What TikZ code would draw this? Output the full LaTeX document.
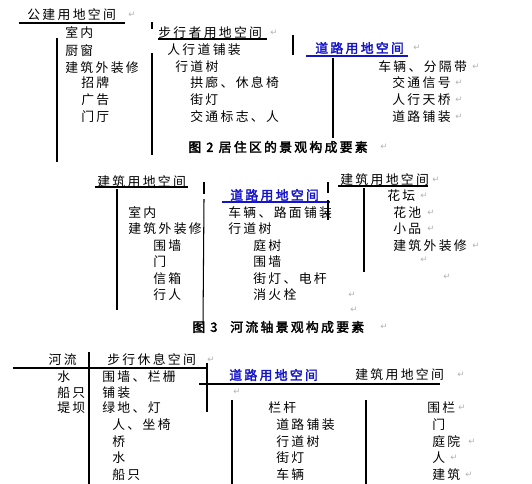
\documentclass[tikz,border=0pt]{standalone}
\usepackage{fontspec}
\setmainfont{Noto Sans CJK SC}[AutoFakeBold=2.5, LetterSpace=18]
\newfontfamily\markfont{DejaVu Sans}
\usetikzlibrary{positioning}
\definecolor{roadblue}{RGB}{20,20,200}

\begin{document}
\begin{tikzpicture}[x=0.02cm, y=-0.02cm,
    txt/.style={anchor=west, inner sep=0pt, font=\fontsize{7.3}{8}\selectfont},
    road/.style={txt, text=roadblue, font=\fontsize{7.3}{8}\selectfont\bfseries},
    figcap/.style={txt, font=\fontsize{7.3}{8}\selectfont\bfseries},
    pmark/.style={anchor=west, inner sep=0pt, text=black!30, font=\markfont\fontsize{5}{6}\selectfont},
    rule/.style={line width=0.6pt}]
    \useasboundingbox (0,0) rectangle (532,484);
    % figure 2
    \node[txt] (pub) at (27,15) {公建用地空间};
    \draw[rule] (19,23) -- (125,23);
    \foreach \n/\x/\y/\t in {
        pa/65/33/室内, pb/65/51/厨窗, pc/65/68/建筑外装修,
        pd/81/83/招牌, pe/81/100/广告, pf/81/117/门厅}
        \node[txt] (\n) at (\x,\y) {\t};
    \draw[rule] (57,38) -- (57,162);
    \node[txt] (walk) at (158,33) {步行者用地空间};
    \draw[rule] (158,39) -- (267,39);
    \foreach \n/\x/\y/\t in {
        wa/167/50/人行道铺装, wb/175/67/行道树,
        wc/190/83/拱廊、休息椅, wd/190/100/街灯, we/190/117/交通标志、人}
        \node[txt] (\n) at (\x,\y) {\t};
    \draw[rule] (152,22) -- (152,29);
    \draw[rule] (152,53) -- (152,155);
    \draw[rule] (293,35) -- (293,55);
    \node[road] (roadA) at (315,48) {道路用地空间};
    \draw[rule, roadblue] (306,56) -- (408,56);
    \draw[rule] (333,58) -- (333,138);
    \foreach \n/\x/\y/\t in {
        ra/378/67/车辆、分隔带, rb/392/83/交通信号,
        rc/392/100/人行天桥, rd/392/117/道路铺装}
        \node[txt] (\n) at (\x,\y) {\t};
    \node[figcap] (capA) at (188,147) {图 2 居住区的景观构成要素};
    % figure 3
    \node[txt] (bldA) at (97,182) {建筑用地空间};
    \draw[rule] (95,187) -- (188,187);
    \draw[rule] (117,189) -- (117,310);
    \foreach \n/\x/\y/\t in {
        ba/128/213/室内, bb/128/229/建筑外装修, bc/153/246/围墙,
        bd/153/262/门, be/153/279/信箱, bf/153/295/行人}
        \node[txt] (\n) at (\x,\y) {\t};
    \draw[rule] (204,182) -- (204,194);
    \draw[rule] (204,199) -- (203,325);
    \node[road] (roadB) at (230,195) {道路用地空间};
    \draw[rule, roadblue] (222,202) -- (330,202);
    \draw[rule] (328,182) -- (328,193);
    \draw[rule] (328,200) -- (328,220);
    \foreach \n/\x/\y/\t in {
        sa/228/213/车辆、路面铺装, sb/228/229/行道树, sc/253/246/庭树,
        sd/253/262/围墙, se/253/279/街灯、电杆, sf/253/295/消火栓}
        \node[txt] (\n) at (\x,\y) {\t};
    \node[txt] (bldB) at (340,180) {建筑用地空间};
    \draw[rule] (338,186) -- (428,186);
    \draw[rule] (364,188) -- (364,272);
    \foreach \n/\x/\y/\t in {
        fa/387/196/花坛, fb/393/213/花池, fc/393/229/小品, fd/393/246/建筑外装修}
        \node[txt] (\n) at (\x,\y) {\t};
    \node[figcap] (capB) at (192,327) {图 3\quad 河流轴景观构成要素};
    % figure 4
    \node[txt, anchor=east] (river) at (77,360) {河流};
    \foreach \n/\x/\y/\t in {
        va/57/377/水, vb/57/393/船只, vc/57/408/堤坝}
        \node[txt] (\n) at (\x,\y) {\t};
    \draw[rule] (89,352) -- (89,484);
    \node[txt] (rest) at (107,360) {步行休息空间};
    \draw[rule] (13,368) -- (207,368);
    \draw[rule] (207,363) -- (207,412);
    \foreach \n/\x/\y/\t in {
        ka/102/377/围墙、栏栅, kb/102/393/铺装, kc/102/408/绿地、灯,
        kd/112/425/人、坐椅, ke/112/442/桥, kf/112/458/水, kg/112/475/船只}
        \node[txt] (\n) at (\x,\y) {\t};
    \node[road] (roadC) at (229,375) {道路用地空间};
    \node[txt] (bldC) at (355,375) {建筑用地空间};
    \draw[rule] (199,384) -- (440,384);
    \draw[rule] (232,400) -- (232,484);
    \foreach \n/\x/\y/\t in {
        ma/268/408/栏杆, mb/276/425/道路铺装, mc/276/442/行道树,
        md/276/458/街灯, me/276/475/车辆}
        \node[txt] (\n) at (\x,\y) {\t};
    \draw[rule] (366,400) -- (366,484);
    \foreach \n/\x/\y/\t in {
        na/427/408/围栏, nb/432/425/门, nc/432/442/庭院,
        nd/432/458/人, ne/432/475/建筑}
        \node[txt] (\n) at (\x,\y) {\t};
    % paragraph marks
    \foreach \x/\y [count=\i] in {
        128/15, 270/33, 413/48, 472/67, 455/83, 455/100, 455/117, 380/147,
        432/180, 420/196, 427/213, 427/229, 472/246, 420/260, 443/277, 348/295,
        350/310, 380/327, 207/360, 233/392, 457/375, 458/408, 468/442,
        450/458, 465/475}
        \node[pmark] (pm\i) at (\x,\y) {↵};
\end{tikzpicture}
\end{document}
